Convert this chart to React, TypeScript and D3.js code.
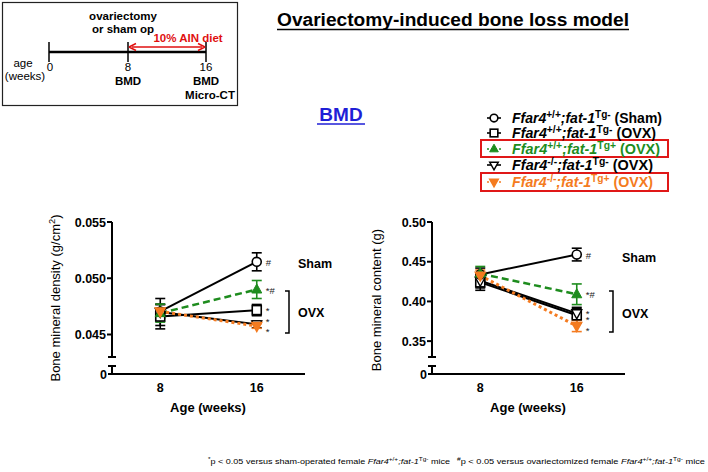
import React from "react";
import * as d3 from "d3";

const ages = [8, 16];
const seriesNames = ["shamWT", "ovxWT", "ovxTg", "ovxKO", "ovxKOTg"];
// BMD (g/cm2)
const bmdSham = [0.04705, 0.05146];
const bmdSqOvx = [0.0466, 0.04717];
const bmdGreen = [0.0469, 0.0490];
const bmdKO = [0.0470, 0.0459];
const bmdOrange = [0.04705, 0.04575];
const bmdShamErr = [0.0006, 0.0008];
const bmdSqOvxErr = [0.0011, 0.0005];
const bmdGreenErr = [0.0008, 0.0008];
const bmdKOErr = [0.0012, 0.0003];
const bmdOrangeErr = [0.0003, 0.0002];
const bmdTicks = [0.045, 0.05, 0.055];
const bmdTickLabels = ["0.045", "0.050", "0.055"];
// BMC (g)
const bmcSham = [0.434, 0.459];
const bmcSqOvx = [0.424, 0.3825];
const bmcGreen = [0.435, 0.409];
const bmcKO = [0.426, 0.385];
const bmcOrange = [0.4325, 0.369];
const bmcShamErr = [0.008, 0.008];
const bmcSqOvxErr = [0.01, 0.01];
const bmcGreenErr = [0.009, 0.013];
const bmcKOErr = [0.009, 0.006];
const bmcOrangeErr = [0.007, 0.007];
const bmcTicks = [0.35, 0.4, 0.45, 0.5];
const bmcTickLabels = ["0.35", "0.40", "0.45", "0.50"];

// annotations per series: sham, ovx WT, ovx Tg (green), ovx KO, ovx KO Tg (orange)
const bmdAnnot = ["#", "*", "*#", "*", "*"];
const bmcAnnot = ["#", "*", "*#", "*", "*"];

const GREEN = "#1e8c1e";
const ORANGE = "#f47b20";
const FONT = "Liberation Sans, Arial, sans-serif";

type Style = { color: string; dash: string; width: number; marker: string; fill: string };
const styles: Style[] = [
  { color: "#000", dash: "", width: 2, marker: "circle", fill: "#fff" },
  { color: "#000", dash: "", width: 2, marker: "square", fill: "#fff" },
  { color: GREEN, dash: "7,4", width: 2.5, marker: "up", fill: GREEN },
  { color: "#000", dash: "", width: 2, marker: "down", fill: "#fff" },
  { color: ORANGE, dash: "3,3", width: 3, marker: "down", fill: ORANGE },
];

function Marker({ x, y, s, size = 1 }: { x: number; y: number; s: Style; size?: number }) {
  const r = 4.5 * size;
  if (s.marker === "circle")
    return <circle cx={x} cy={y} r={r} fill={s.fill} stroke={s.color} strokeWidth={1.6} />;
  if (s.marker === "square")
    return <rect x={x - r} y={y - r} width={2 * r} height={2 * r} fill={s.fill} stroke={s.color} strokeWidth={1.6} />;
  if (s.marker === "up")
    return <path d={`M${x},${y - r - 1}L${x + r + 0.5},${y + r - 1}L${x - r - 0.5},${y + r - 1}Z`} fill={s.fill} stroke={s.color} strokeWidth={1} />;
  return <path d={`M${x},${y + r + 1}L${x + r + 0.5},${y - r + 1}L${x - r - 0.5},${y - r + 1}Z`} fill={s.fill} stroke={s.color} strokeWidth={1.4} />;
}

type PanelProps = {
  x0: number;
  yLow: number;
  yHigh: number;
  ticks: number[];
  tickLabels: string[];
  series: number[][];
  errs: number[][];
  annots: string[];
  ylabel: React.ReactNode;
  annotYOffsets: number[];
};

function Panel(p: PanelProps) {
  const x = d3.scaleLinear().domain([4, 20]).range([p.x0, p.x0 + 193]);
  const y = d3.scaleLinear().domain([p.yLow, p.yHigh]).range([357, 222]);
  const axisX = p.x0;
  const zeroY = 374;
  const line = d3
    .line<number>()
    .x((_, i) => x(ages[i]))
    .y((d) => y(d));
  const order = [1, 3, 0, 2, 4];
  return (
    <g fontFamily={FONT}>
      <line x1={axisX} x2={axisX} y1={y(p.yHigh)} y2={357} stroke="#000" strokeWidth={2} />
      <line x1={axisX - 4} x2={axisX + 4} y1={357} y2={357} stroke="#000" strokeWidth={2} />
      <line x1={axisX} x2={axisX} y1={366} y2={zeroY} stroke="#000" strokeWidth={2} />
      <line x1={axisX - 4} x2={axisX + 4} y1={366} y2={366} stroke="#000" strokeWidth={2} />
      <line x1={axisX - 4} x2={axisX} y1={zeroY} y2={zeroY} stroke="#000" strokeWidth={2} />
      <text x={axisX - 5} y={zeroY + 4.5} textAnchor="end" fontSize={12.5} fontWeight="bold">0</text>
      {p.ticks.map((t, i) => (
        <g key={t}>
          <line x1={axisX - 5} x2={axisX} y1={y(t)} y2={y(t)} stroke="#000" strokeWidth={2} />
          <text x={axisX - 6} y={y(t) + 4.5} textAnchor="end" fontSize={12.5} fontWeight="bold">
            {p.tickLabels[i]}
          </text>
        </g>
      ))}
      <line x1={axisX - 1} x2={p.x0 + 193} y1={zeroY} y2={zeroY} stroke="#000" strokeWidth={2} />
      {ages.map((a) => (
        <text key={a} x={x(a)} y={392} textAnchor="middle" fontSize={12.5} fontWeight="bold">
          {a}
        </text>
      ))}
      <text x={p.x0 + 96} y={412} textAnchor="middle" fontSize={13} fontWeight="bold">Age (weeks)</text>
      {p.ylabel}
      {order.map((si) =>
        p.series[si].map((v, i) => {
          const s = styles[si];
          const e = p.errs[si][i];
          const cx = x(ages[i]);
          return (
            <g key={`e${si}-${i}`} stroke={s.color} strokeWidth={1.6}>
              <line x1={cx} x2={cx} y1={y(v - e)} y2={y(v + e)} />
              <line x1={cx - 5} x2={cx + 5} y1={y(v - e)} y2={y(v - e)} />
              <line x1={cx - 5} x2={cx + 5} y1={y(v + e)} y2={y(v + e)} />
            </g>
          );
        })
      )}
      {order.map((si) => (
        <path
          key={`l${si}`}
          d={line(p.series[si]) || ""}
          fill="none"
          stroke={styles[si].color}
          strokeWidth={styles[si].width}
          strokeDasharray={styles[si].dash}
        />
      ))}
      {order.map((si) =>
        p.series[si].map((v, i) => <Marker key={`m${si}-${i}`} x={x(ages[i])} y={y(v)} s={styles[si]} />)
      )}
      {p.annots.map((a, si) => (
        <text
          key={`a${si}`}
          x={x(16) + 9}
          y={y(p.series[si][1]) + 4 + p.annotYOffsets[si]}
          fontSize={9.5}
          fill="#222"
        >
          {a}
        </text>
      ))}
    </g>
  );
}

function Sup({ children }: { children: React.ReactNode }) {
  return (
    <tspan baselineShift="super" fontSize="72%">
      {children}
    </tspan>
  );
}

function LegendLabel({ sup1, sup2, tail }: { sup1: string; sup2: string; tail: string }) {
  return (
    <>
      <tspan fontStyle="italic">Ffar4</tspan>
      <Sup>{sup1}</Sup>
      <tspan fontStyle="italic">;fat-1</tspan>
      <Sup>{sup2}</Sup>
      <tspan> {tail}</tspan>
    </>
  );
}

const legendSup1 = ["+/+", "+/+", "+/+", "-/-", "-/-"];
const legendSup2 = ["Tg-", "Tg-", "Tg+", "Tg-", "Tg+"];
const legendTail = ["(Sham)", "(OVX)", "(OVX)", "(OVX)", "(OVX)"];
const legendRowY = [118, 133, 149, 165, 182];

export default function App() {
  const legendWidths = [150, 144, 148, 141, 141];
  return (
    <svg width={708} height={472} style={{ position: "absolute", left: 0, top: 0, background: "#fff" }} fontFamily={FONT}>
      <rect width={708} height={472} fill="#fff" />
      <rect x={2.5} y={2.5} width={235} height={103} fill="#fff" stroke="#222" strokeWidth={1.2} />
      <text x={123} y={20} textAnchor="middle" fontSize={11.5} fontWeight="bold">ovariectomy</text>
      <text x={123} y={33} textAnchor="middle" fontSize={11.5} fontWeight="bold">or sham op</text>
      <text x={188} y={42} textAnchor="middle" fontSize={11.5} fontWeight="bold" fill="#e01010">10% AIN diet</text>
      <line x1={49} x2={206} y1={52} y2={52} stroke="#000" strokeWidth={2.5} />
      {[49, 128, 206].map((tx) => (
        <line key={tx} x1={tx} x2={tx} y1={42} y2={62} stroke="#000" strokeWidth={1.5} />
      ))}
      <line x1={132} x2={202} y1={47} y2={47} stroke="#e01010" strokeWidth={1.5} />
      <path d="M129,47L136,43.5M129,47L136,50.5M205,47L198,43.5M205,47L198,50.5" stroke="#e01010" strokeWidth={1.5} fill="none" />
      <text x={23} y={67} textAnchor="middle" fontSize={11.5}>age</text>
      <text x={25} y={80} textAnchor="middle" fontSize={11.5}>(weeks)</text>
      <text x={50} y={71} textAnchor="middle" fontSize={11.5}>0</text>
      <text x={128} y={71} textAnchor="middle" fontSize={11.5}>8</text>
      <text x={206} y={71} textAnchor="middle" fontSize={11.5}>16</text>
      <text x={128} y={85} textAnchor="middle" fontSize={11.5} fontWeight="bold">BMD</text>
      <text x={206} y={85} textAnchor="middle" fontSize={11.5} fontWeight="bold">BMD</text>
      <text x={210} y={99} textAnchor="middle" fontSize={11.5} fontWeight="bold">Micro-CT</text>

      <text x={453} y={26} textAnchor="middle" fontSize={17.5} fontWeight="bold" textLength={352} lengthAdjust="spacingAndGlyphs">
        Ovariectomy-induced bone loss model
      </text>
      <line x1={277} x2={629} y1={29.5} y2={29.5} stroke="#000" strokeWidth={1.3} />

      <text x={341} y={121} textAnchor="middle" fontSize={19} fontWeight="bold" fill="#1f1fd6">BMD</text>
      <line x1={317} x2={365} y1={124} y2={124} stroke="#1f1fd6" strokeWidth={1.5} />

      <rect x={481} y={140} width={187} height={17} fill="none" stroke="#e01818" strokeWidth={2} />
      <rect x={481} y={173} width={187} height={18} fill="none" stroke="#e01818" strokeWidth={2} />
      {seriesNames.map((n, i) => {
        const s = styles[i];
        const ly = legendRowY[i];
        return (
          <g key={n}>
            <line x1={487} x2={501} y1={ly} y2={ly} stroke={s.color} strokeWidth={1.6} strokeDasharray={s.dash ? "2,2" : ""} />
            <Marker x={494} y={ly} s={s} size={0.85} />
            <text
              x={512}
              y={ly + 5}
              fontSize={14}
              fontWeight="bold"
              fill={i === 2 ? GREEN : i === 4 ? ORANGE : "#000"}
              textLength={legendWidths[i]}
              lengthAdjust="spacingAndGlyphs"
            >
              <LegendLabel sup1={legendSup1[i]} sup2={legendSup2[i]} tail={legendTail[i]} />
            </text>
          </g>
        );
      })}

      <Panel
        x0={112}
        yLow={0.043}
        yHigh={0.055}
        ticks={bmdTicks}
        tickLabels={bmdTickLabels}
        series={[bmdSham, bmdSqOvx, bmdGreen, bmdKO, bmdOrange]}
        errs={[bmdShamErr, bmdSqOvxErr, bmdGreenErr, bmdKOErr, bmdOrangeErr]}
        annots={bmdAnnot}
        annotYOffsets={[0, 0, 0, -3, 5]}
        ylabel={
          <text transform="translate(60,298) rotate(-90)" textAnchor="middle" fontSize={13}>
            Bone mineral density (g/cm<Sup>2</Sup>)
          </text>
        }
      />
      <Panel
        x0={432}
        yLow={0.33}
        yHigh={0.5}
        ticks={bmcTicks}
        tickLabels={bmcTickLabels}
        series={[bmcSham, bmcSqOvx, bmcGreen, bmcKO, bmcOrange]}
        errs={[bmcShamErr, bmcSqOvxErr, bmcGreenErr, bmcKOErr, bmcOrangeErr]}
        annots={bmcAnnot}
        annotYOffsets={[0, -2, 0, 6, 4]}
        ylabel={
          <text transform="translate(381,300) rotate(-90)" textAnchor="middle" fontSize={13}>
            Bone mineral content (g)
          </text>
        }
      />
      {[
        [289, 291, 333, 298, 263, 312],
        [613, 291, 332, 622, 257, 313],
      ].map(([bx, t, b, tx, sy, oy], i) => (
        <g key={i} fontFamily={FONT}>
          <path d={`M${bx - 4},${t}H${bx}V${b}H${bx - 4}`} fill="none" stroke="#000" strokeWidth={1.5} />
          <text x={tx} y={sy + 4.5} fontSize={12.5} fontWeight="bold">Sham</text>
          <text x={tx} y={oy + 4.5} fontSize={12.5} fontWeight="bold">OVX</text>
        </g>
      ))}
      <text x={208} y={464} fontSize={8} textLength={242} lengthAdjust="spacingAndGlyphs">
        <Sup>*</Sup>p &lt; 0.05 versus sham-operated female <tspan fontStyle="italic">Ffar4</tspan>
        <Sup>+/+</Sup>
        <tspan fontStyle="italic">;fat-1</tspan>
        <Sup>Tg-</Sup> mice
      </text>
      <text x={457} y={464} fontSize={8} textLength={248} lengthAdjust="spacingAndGlyphs">
        <Sup>#</Sup>p &lt; 0.05 versus ovariectomized female <tspan fontStyle="italic">Ffar4</tspan>
        <Sup>+/+</Sup>
        <tspan fontStyle="italic">;fat-1</tspan>
        <Sup>Tg-</Sup> mice
      </text>
    </svg>
  );
}
